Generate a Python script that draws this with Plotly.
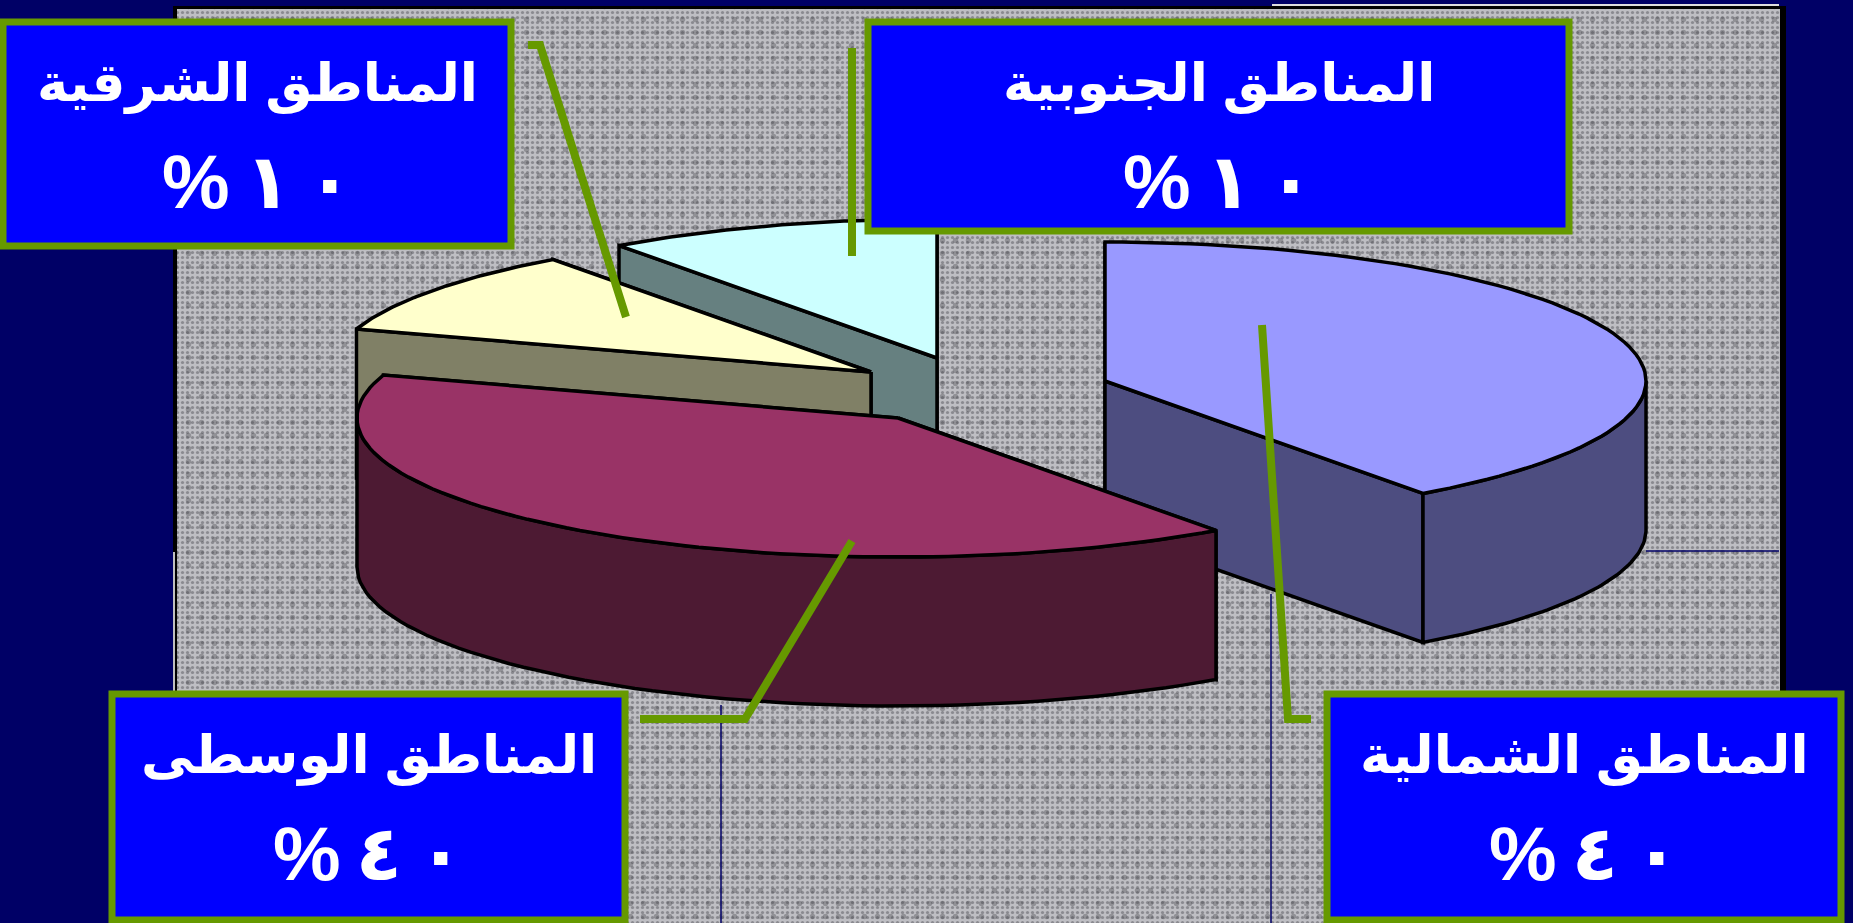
import math
import plotly.graph_objects as go

# ---- data ----
REGIONS = ["المناطق الشمالية", "المناطق الوسطى", "المناطق الشرقية", "المناطق الجنوبية"]
VALUES = [40, 40, 10, 10]
BOX_TITLES = ["المناطق الشمالية", "المناطق الوسطى", "المناطق الشرقية", "المناطق الجنوبية"]
BOX_PERCENTS = ["%\u200e\u2009٤\u200e\u2009٠", "%\u200e\u2009٤\u200e\u2009٠", "%\u200e\u2009١\u200e\u2009٠", "%\u200e\u2009١\u200e\u2009٠"]

# ---- styles / layout ----
W, H = 1853, 923
NAVY = "#000066"
GREEN = "#669900"
BLUE = "#0000FF"
TOP_COLORS = ["#9999FF", "#993366", "#FFFFCC", "#CCFFFF"]
SIDE_COLORS = ["#4D4D80", "#4D1A33", "#808066", "#668080"]
APEX = [(1105, 381), (898, 418), (871, 372), (937, 358)]
RX, RY, DEPTH = 541, 139, 149
DRAW_ORDER = [3, 2, 0, 1]
BOXES = [(1324, 691, 1844, 923), (109, 691, 628, 923), (0, 19, 514, 249), (865, 19, 1572, 234)]
LEADERS = [
    "M 1262 325 L 1288 719 L 1311 719",
    "M 640 719 L 745 719 L 852 541",
    "M 626 317 L 540 45 L 528 45",
    "M 852 48 L 852 256",
]
PANEL = (177, 9, 1780, 923)
TEXTURE = [(".", 5, 0.32, "#8A8A90", "#BEBEC3"), (".", 13, 0.14, "rgba(60,60,65,0.35)", "rgba(0,0,0,0)")]

fig = go.Figure()


def rim(apex, deg, drop=0):
    t = math.radians(deg)
    return apex[0] + RX * math.sin(t), apex[1] - RY * math.cos(t) + drop


def poly(pts, fill):
    xs = [p[0] for p in pts] + [pts[0][0]]
    ys = [p[1] for p in pts] + [pts[0][1]]
    fig.add_trace(go.Scatter(x=xs, y=ys, mode="lines", fill="toself", fillcolor=fill,
                             line=dict(color="#000000", width=3.5), hoverinfo="skip", showlegend=False))


# textured panel
l, t, r, b = PANEL
for shape, size, solidity, fg, bg in TEXTURE:
    fig.add_trace(go.Scatter(x=[l, r, r, l, l], y=[t, t, b, b, t], mode="lines", fill="toself",
                             fillcolor="rgba(0,0,0,0)", line=dict(width=0), hoverinfo="skip", showlegend=False,
                             fillpattern=dict(shape=shape, size=size, solidity=solidity,
                                              fgcolor=fg, bgcolor=bg, fillmode="replace")))

total = sum(VALUES)
starts = []
acc = 0
for v in VALUES:
    starts.append(acc / total * 360)
    acc += v

for i in DRAW_ORDER:
    a0, a1 = starts[i], starts[i] + VALUES[i] / total * 360
    apex = APEX[i]
    cuts = sorted([a0, a1], key=lambda d: rim(apex, d)[1])
    for d in cuts:
        p = rim(apex, d)
        poly([apex, p, (p[0], p[1] + DEPTH), (apex[0], apex[1] + DEPTH)], SIDE_COLORS[i])
    w0, w1 = max(a0, 90), min(a1, 270)
    if w1 > w0:
        n = 60
        arc = [w0 + (w1 - w0) * k / n for k in range(n + 1)]
        poly([rim(apex, d) for d in arc] + [rim(apex, d, DEPTH) for d in reversed(arc)], SIDE_COLORS[i])
    n = 80
    arc = [a0 + (a1 - a0) * k / n for k in range(n + 1)]
    poly([apex] + [rim(apex, d) for d in arc], TOP_COLORS[i])

shapes = [
    dict(type="rect", x0=173, x1=177, y0=6, y1=923, fillcolor="#000000", line_width=0, layer="below"),
    dict(type="rect", x0=173, x1=1786, y0=6, y1=10, fillcolor="#000000", line_width=0, layer="below"),
    dict(type="rect", x0=1780, x1=1786, y0=6, y1=923, fillcolor="#000000", line_width=0, layer="below"),
    dict(type="line", x0=1272, x1=1779, y0=5, y1=5, line=dict(color="#DDDDDD", width=2)),
    dict(type="line", x0=174, x1=174, y0=552, y1=691, line=dict(color="#FFFFFF", width=1.5)),
    dict(type="line", x0=1646, x1=1779, y0=551, y1=551, line=dict(color=NAVY, width=1.5)),
    dict(type="line", x0=721, x1=721, y0=705, y1=923, line=dict(color=NAVY, width=1.5)),
    dict(type="line", x0=1271, x1=1271, y0=594, y1=923, line=dict(color=NAVY, width=1.5)),
]
for d in LEADERS:
    shapes.append(dict(type="path", path=d, line=dict(color=GREEN, width=8), layer="above"))
for (x0, y0, x1, y1) in BOXES:
    shapes.append(dict(type="rect", x0=x0 + 3, x1=x1 - 3, y0=y0 + 3, y1=y1 - 3, fillcolor=BLUE,
                       line=dict(color=GREEN, width=7), layer="above"))

annotations = []
FONT = "Liberation Sans, DejaVu Sans, sans-serif"
for (x0, y0, x1, y1), title, pct in zip(BOXES, BOX_TITLES, BOX_PERCENTS):
    cx = (x0 + x1) / 2
    annotations.append(dict(x=cx, y=y0 + 64, text=f"<b>{title}</b>", showarrow=False,
                            font=dict(family=FONT, size=53, color="#FFFFFF"), xanchor="center", yanchor="middle"))
    annotations.append(dict(x=cx, y=y0 + 162, text=f"<b>{pct}</b>", showarrow=False,
                            font=dict(family=FONT, size=76, color="#FFFFFF"), xanchor="center", yanchor="middle"))

fig.update_layout(
    width=W, height=H, margin=dict(l=0, r=0, t=0, b=0), autosize=False,
    paper_bgcolor=NAVY, plot_bgcolor=NAVY, showlegend=False,
    xaxis=dict(range=[0, W], visible=False, fixedrange=True),
    yaxis=dict(range=[H, 0], visible=False, fixedrange=True),
    shapes=shapes, annotations=annotations,
)
fig.write_html("out.html", config=dict(displayModeBar=False),
               post_script="document.body.style.margin='0';document.body.style.overflow='hidden';document.body.style.background='#000066';")
